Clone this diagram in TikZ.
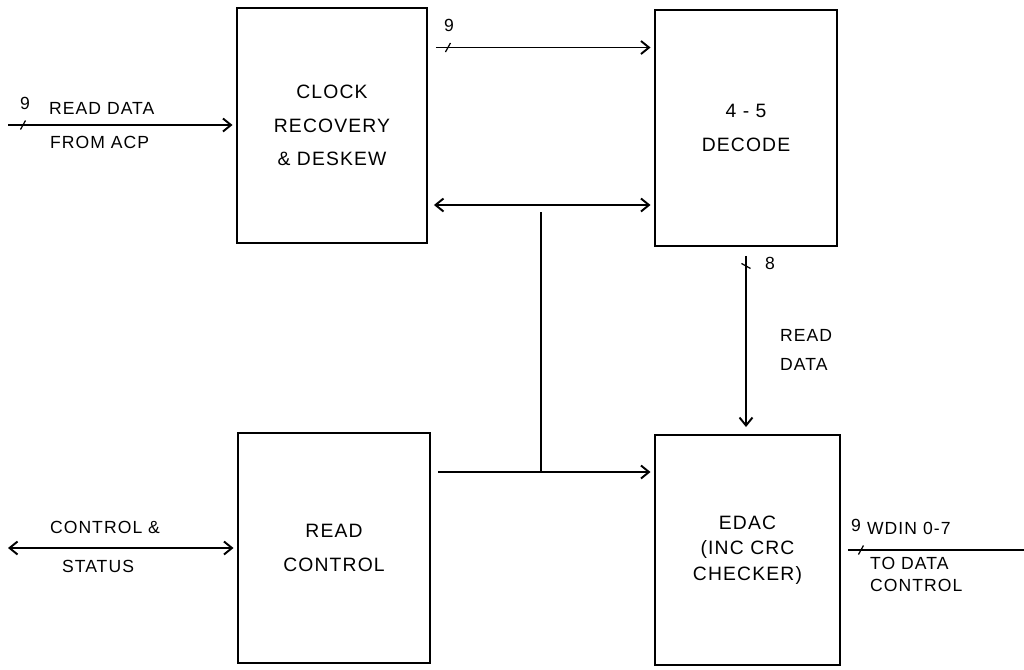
\documentclass[tikz,border=0pt]{standalone}
\usepackage{fontspec}
\setsansfont{Liberation Sans}[LetterSpace=6.0]
\usepackage{tikz}
\usetikzlibrary{arrows.meta,positioning,calc}
\tikzset{
  block/.style={draw=black, line width=1.1pt, align=center, fill=white,
    minimum width=3.8cm, minimum height=4.7cm, font=\sffamily\fontsize{11}{19}\selectfont},
  wire/.style={draw=black, line width=1.1pt},
  flow/.style={wire, -{Straight Barb[length=1.6mm,width=2.6mm]}},
  biflow/.style={wire, {Straight Barb[length=1.6mm,width=2.6mm]}-{Straight Barb[length=1.6mm,width=2.6mm]}},
  tick/.style={draw=black, line width=0.7pt},
  lbl/.style={font=\sffamily\fontsize{10}{16.5}\selectfont, inner sep=1pt, align=left},
  buslbl/.style={font=\sffamily\fontsize{10}{12}\selectfont, inner sep=1pt}
}

\begin{document}
\begin{tikzpicture}
    \useasboundingbox (0,0) rectangle (20.48,-13.38);

    % blocks
    \node[block] (clock) at (6.64,-2.51) {CLOCK\\RECOVERY\\\& DESKEW};
    \node[block, minimum width=3.64cm, minimum height=4.72cm] (decode) at (14.92,-2.56) {4 - 5\\DECODE};
    \node[block, minimum width=3.84cm, minimum height=4.6cm] (readctl) at (6.68,-10.96) {READ\\CONTROL};
    \node[block, minimum width=3.7cm, minimum height=4.6cm,
      font=\sffamily\fontsize{11}{14.5}\selectfont] (edac) at (14.95,-11.0) {EDAC\\(INC CRC\\CHECKER)};

    \coordinate (adp) at (0.16,-2.5);
    \coordinate (busA) at ([yshift=1.56cm]clock.east);
    \coordinate (busB) at ([yshift=-1.59cm]clock.east);
    \coordinate (busC) at ([yshift=1.52cm]readctl.east);
    \coordinate (tap) at (10.82,-4.1);
    \coordinate (host) at (0.16,-10.96);
    \coordinate (dctl) at (20.48,-11.0);

    % read data in
    \draw[flow, shorten >=2pt] (adp) -- (adp -| clock.west);
    \draw[tick] ([xshift=0.3cm]adp) +(-0.05,-0.09) -- +(0.05,0.09);
    \node[buslbl] (w1) at (0.5,-2.07) {9};
    \node[lbl, anchor=west] (rdin) at (0.94,-2.16) {READ DATA};
    \node[lbl, anchor=west] (acp) at (0.96,-2.84) {FROM ACP};

    % clock -> decode
    \draw[flow, shorten <=0.16cm, shorten >=2pt] (busA) -- (busA -| decode.west);
    \draw[tick] ([xshift=0.4cm]busA) +(-0.05,-0.09) -- +(0.05,0.09);
    \node[buslbl] (w2) at (8.98,-0.5) {9};

    % control bus
    \draw[biflow, shorten <=0.12cm, shorten >=2pt] (busB) -- (busB -| decode.west);
    \draw[wire] ([yshift=-0.14cm]tap) -- (tap |- busC);
    \draw[flow, shorten <=0.14cm, shorten >=2pt] (busC) -- (busC -| edac.west);

    % decode -> edac
    \draw[flow, shorten <=0.18cm, shorten >=0.14cm] (decode.south) -- (decode.south |- edac.north);
    \draw[tick] ([yshift=-0.38cm]decode.south) +(-0.09,0.05) -- +(0.09,-0.05);
    \node[buslbl] (w3) at (15.4,-5.26) {8};
    \node[lbl, anchor=west] (rdata) at (15.56,-7.0) {READ\\DATA};

    % control & status
    \draw[biflow, shorten >=2pt] (host) -- (host -| readctl.west);
    \node[lbl] (ctl) at (2.1,-10.54) {CONTROL \&};
    \node[lbl] (stat) at (1.96,-11.32) {STATUS};

    % data out
    \draw[wire, shorten <=0.14cm] (edac.east) -- (dctl);
    \draw[tick] ([xshift=0.4cm]edac.east) +(-0.05,-0.09) -- +(0.05,0.09);
    \node[buslbl] (w4) at (17.12,-10.5) {9};
    \node[lbl, anchor=west] (wdin) at (17.3,-10.56) {WDIN 0-7};
    \node[lbl, anchor=west, font=\sffamily\fontsize{10}{12.5}\selectfont] (todc) at (17.36,-11.48) {TO DATA\\CONTROL};
\end{tikzpicture}
\end{document}
